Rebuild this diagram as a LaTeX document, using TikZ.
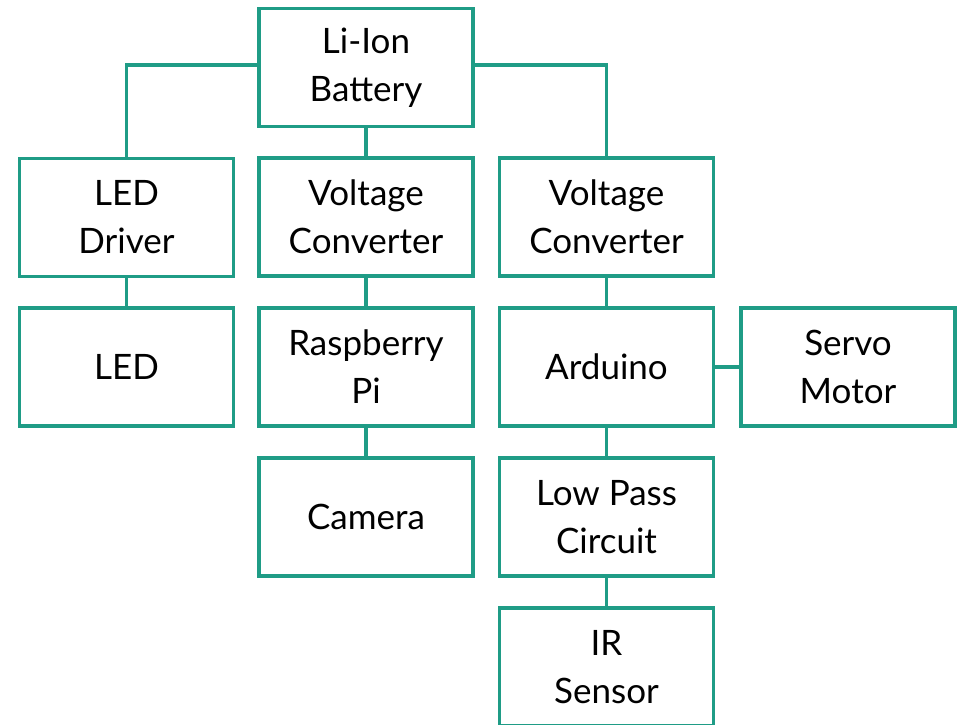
\documentclass[tikz,border=0pt]{standalone}
\usepackage{fontspec}
\setmainfont{Lato}
\definecolor{teal}{HTML}{1F9C86}
\begin{document}
\begin{tikzpicture}[x=1pt,y=-1pt,
  blk/.style={draw=teal, line width=3.8pt, fill=white, minimum width=214pt, minimum height=118pt,
    inner sep=0pt, align=center, text=black, font=\fontsize{35}{48}\selectfont},
  wire/.style={draw=teal, line width=3.8pt}]
\useasboundingbox (0,0) rectangle (961,725);
\node[blk] (bat) at (366,67.5) {Li-Ion\\Battery};
\node[blk] (drv) at (126.5,217.5) {LED\\Driver};
\node[blk] (vc1) at (366,217) {Voltage\\Converter};
\node[blk] (vc2) at (606.5,217) {Voltage\\Converter};
\node[blk] (led) at (126.5,367) {LED};
\node[blk] (rpi) at (366,367) {Raspberry\\Pi};
\node[blk] (ard) at (606.5,367) {Arduino};
\node[blk] (servo) at (848,367) {Servo\\Motor};
\node[blk] (cam) at (366,517) {Camera};
\node[blk] (lpc) at (606.5,517) {Low Pass\\Circuit};
\node[blk] (ir) at (606.5,667) {IR\\Sensor};
\draw[wire] ([yshift=2.5pt]bat.west) -| (drv.north);
\draw[wire] ([yshift=2.5pt]bat.east) -| (vc2.north);
\draw[wire] (bat.south) -- (vc1.north);
\draw[wire] (drv.south) -- (led.north);
\draw[wire] (vc1.south) -- (rpi.north);
\draw[wire] (vc2.south) -- (ard.north);
\draw[wire] (ard.east) -- (servo.west);
\draw[wire] (rpi.south) -- (cam.north);
\draw[wire] (ard.south) -- (lpc.north);
\draw[wire] (lpc.south) -- (ir.north);
\end{tikzpicture}
\end{document}
